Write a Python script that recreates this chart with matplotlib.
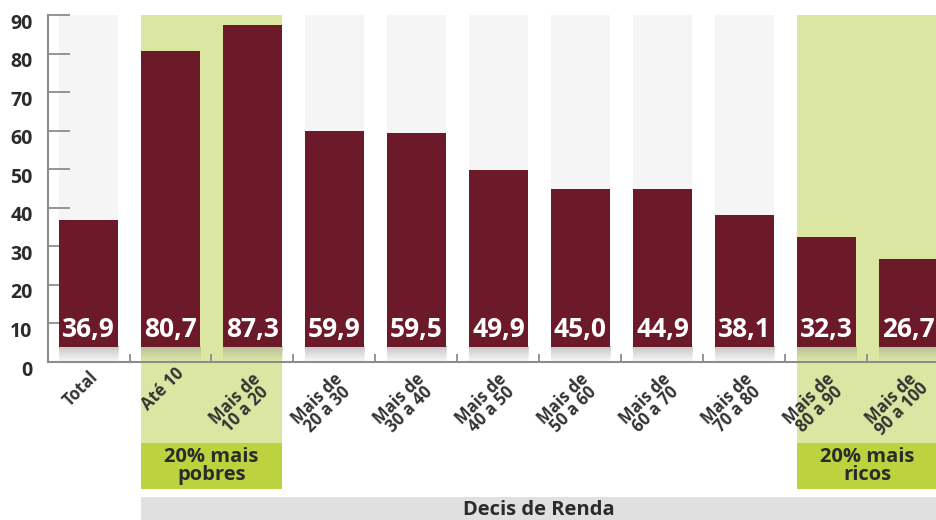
import matplotlib
matplotlib.use("Agg")
import matplotlib.pyplot as plt
import numpy as np
from matplotlib.patches import Rectangle
from matplotlib.transforms import ScaledTranslation

categories = ["Total", "Até 10", "Mais de\n10 a 20", "Mais de\n20 a 30", "Mais de\n30 a 40",
              "Mais de\n40 a 50", "Mais de\n50 a 60", "Mais de\n60 a 70", "Mais de\n70 a 80",
              "Mais de\n80 a 90", "Mais de\n90 a 100"]
values = [36.9, 80.7, 87.3, 59.9, 59.5, 49.9, 45.0, 44.9, 38.1, 32.3, 26.7]
yticks = [0, 10, 20, 30, 40, 50, 60, 70, 80, 90]
poor_group = [1, 2]
rich_group = [9, 10]
poor_label = "20% mais\npobres"
rich_label = "20% mais\nricos"
axis_title = "Decis de Renda"

FONT = ["Open Sans", "DejaVu Sans"]
BAR = "#6c1a2a"
LIGHT_GREEN = "#dce6a3"
DARK_GREEN = "#bcd23f"
COL_GRAY = "#f5f5f5"
SPINE = "#8c8c8c"
TXT = "#2b2b2b"

W, H = 937, 520
fig = plt.figure(figsize=(W / 100, H / 100), dpi=100)
ax = fig.add_axes([48 / W, (H - 362) / H, (W - 48) / W, (362 - 15) / H])
x0, x1 = -0.494, 10.348
ppy = 347 / 90.0  # pixels per unit
ppx = 82.0

def py2y(py):
    return (362 - py) / ppy

bw = 0.72
x = np.arange(len(values))
base = 4.0

# background columns
for i in x:
    if i in poor_group or i in rich_group:
        continue
    ax.add_patch(Rectangle((i - bw / 2, 0), bw, 90, color=COL_GRAY, zorder=0, lw=0))

# green groups
for grp, lab in ((poor_group, poor_label), (rich_group, rich_label)):
    left = min(grp) - bw / 2
    right = max(grp) + bw / 2
    ax.add_patch(Rectangle((left, py2y(443)), right - left, 90 - py2y(443),
                           color=LIGHT_GREEN, zorder=0, lw=0, clip_on=False))
    ax.add_patch(Rectangle((left, py2y(489)), right - left, py2y(443) - py2y(489),
                           color=DARK_GREEN, zorder=0, lw=0, clip_on=False))
    ax.text((left + right) / 2, (py2y(443) + py2y(489)) / 2, lab, ha="center", va="center",
            fontsize=14.5, fontweight="bold", color=TXT, family=FONT, linespacing=0.9,
            clip_on=False)

# gray band
band_left = min(poor_group) - bw / 2
ax.add_patch(Rectangle((band_left, py2y(520) - 1), x1 + 1 - band_left, py2y(497) - py2y(520) + 1,
                       color="#e0e0e0", zorder=0, lw=0, clip_on=False))
ax.text((band_left + x1) / 2, py2y(510), axis_title, ha="center", va="center",
        fontsize=14.5, fontweight="bold", color=TXT, family=FONT, clip_on=False)

# shadows
grad = np.zeros((32, 2, 4))
grad[..., :3] = 0.55
grad[..., 3] = np.linspace(0.45, 0.0, 32)[:, None]
for i in x:
    ax.imshow(grad, extent=(i - bw / 2, i + bw / 2, 0.2, base), aspect="auto",
              origin="upper", zorder=1.5, interpolation="bilinear")

# bars
ax.bar(x, np.array(values) - base, bottom=base, width=bw, color=BAR, zorder=2, lw=0)
for i, v in zip(x, values):
    ax.text(i, 8.3, f"{v:.1f}".replace(".", ","), ha="center", va="center", color="white",
            fontsize=19, fontweight="bold", family=FONT, zorder=3)

# x labels
for i, c in zip(x, categories):
    two = "\n" in c
    ax.text(i - (12 if two else 8) / ppx, py2y(404 if two else 389), c, rotation=45,
            ha="center", va="center", multialignment="center", fontsize=12,
            fontweight="bold", color="#333333", family=FONT, linespacing=0.8, clip_on=False)

# spines and ticks
for s in ("top", "right"):
    ax.spines[s].set_visible(False)
for s in ("left", "bottom"):
    ax.spines[s].set_color(SPINE)
    ax.spines[s].set_linewidth(1.5)
    ax.spines[s].set_zorder(4)
ax.set_yticks(yticks)
ax.set_yticklabels([str(t) for t in yticks])
ax.tick_params(axis="y", direction="in", length=16, width=1.3, color=SPINE, pad=11,
               labelsize=14, labelcolor=TXT)
for lab in ax.get_yticklabels():
    lab.set_fontweight("bold")
    lab.set_family(FONT)
    lab.set_transform(lab.get_transform() + ScaledTranslation(0, -6 / 100, fig.dpi_scale_trans))
ax.set_xticks(np.arange(len(values) - 1) + 0.5)
ax.set_xticklabels([])
ax.tick_params(axis="x", direction="in", length=6, width=1.3, color=SPINE)
ax.set_facecolor("none")
ax.set_xlim(x0, x1)
ax.set_ylim(0, 90)

fig.savefig("out.png", dpi=100)
